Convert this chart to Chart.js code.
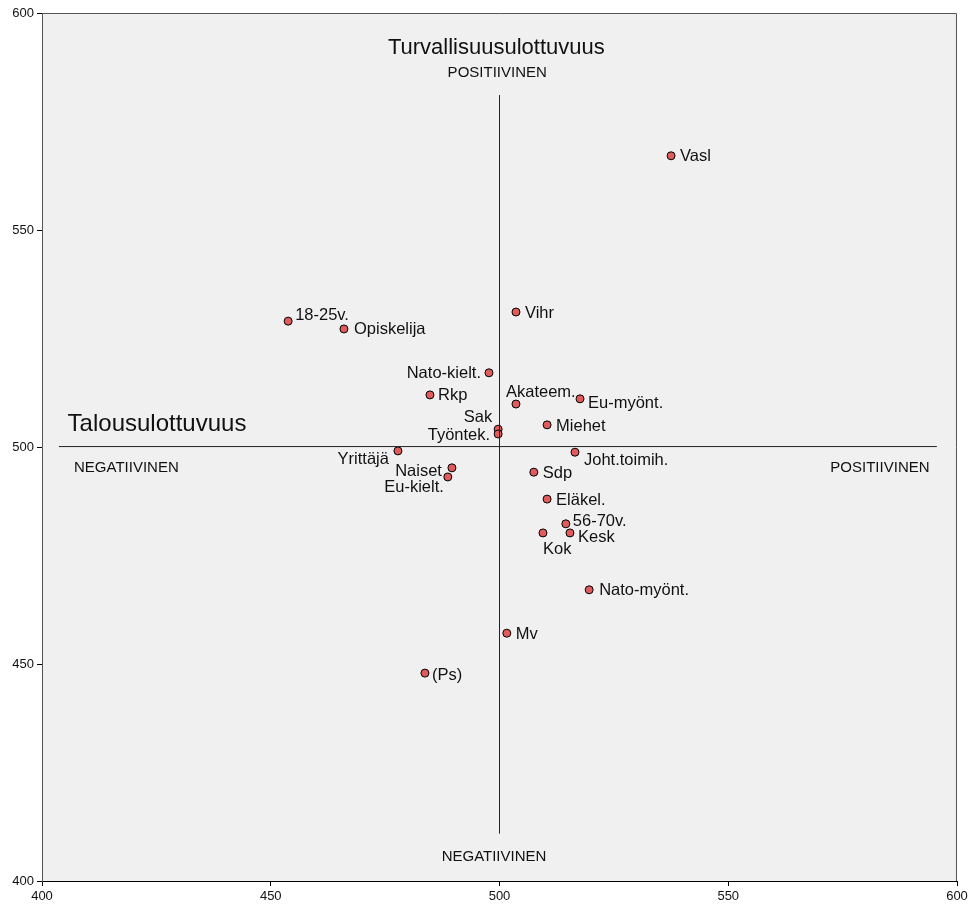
<!DOCTYPE html>
<html>
<head>
<meta charset="utf-8">
<script src="https://cdn.jsdelivr.net/npm/chart.js@4"></script>
<style>
  html, body { margin: 0; padding: 0; background: #fff; }
  #wrap { width: 977px; height: 909px; }
</style>
</head>
<body>
<div id="wrap"><canvas id="chart"></canvas></div>
<script>
// group names and their scores (x = talous, y = turvallisuus)
const groupNames = ['Vasl', 'Vihr', '18-25v.', 'Opiskelija', 'Nato-kielt.', 'Rkp', 'Akateem.',
  'Eu-myönt.', 'Sak', 'Työntek.', 'Miehet', 'Yrittäjä', 'Joht.toimih.', 'Naiset', 'Eu-kielt.',
  'Sdp', 'Eläkel.', '56-70v.', 'Kesk', 'Kok', 'Nato-myönt.', 'Mv', '(Ps)'];
const xValues = [537.5, 503.6, 453.8, 466.0, 497.7, 484.8, 503.6,
  517.6, 499.7, 499.7, 510.4, 477.8, 516.5, 489.6, 488.7,
  507.5, 510.4, 514.5, 515.4, 509.5, 519.6, 501.6, 483.7];
const yValues = [567.1, 531.1, 529.0, 527.2, 517.1, 512.0, 509.9,
  511.1, 504.1, 503.0, 505.1, 499.1, 498.8, 495.2, 493.1,
  494.2, 488.0, 482.3, 480.2, 480.2, 467.1, 457.1, 447.9];

// where each label sits relative to its point: [dx px, dy px, align]
const labelPlace = [[9, 1, 'left'], [9, 1, 'left'], [7, -6, 'left'], [10, 1, 'left'], [-8, 1, 'right'],
  [8, 1, 'left'], [-10, -12, 'left'], [8, 5, 'left'], [-6, -12, 'right'], [-8, 1, 'right'],
  [9, 2, 'left'], [-9, 9, 'right'], [9, 8, 'left'], [-10, 4, 'right'], [-4, 11, 'right'],
  [9, 1, 'left'], [9, 1, 'left'], [7, -2, 'left'], [8, 5, 'left'], [0, 17, 'left'],
  [10, 1, 'left'], [9, 1, 'left'], [7, 2, 'left']];

// axis range / ticks
const axisMin = 400;
const axisMax = 600;
const tickStep = 50;

// cross lines (axes of the map)
const vertLine = [{x: 500, y: 581}, {x: 500, y: 411}];
const horizLine = [{x: 403.7, y: 500.1}, {x: 595.6, y: 500.1}];

// texts written in the plot: [text, x, y, align, size]
const plotTexts = [
  ['Turvallisuusulottuvuus', 499.3, 592.0, 'center', 22],
  ['POSITIIVINEN', 499.5, 586.3, 'center', 15],
  ['NEGATIIVINEN', 498.8, 405.5, 'center', 15],
  ['Talousulottuvuus', 405.6, 505.3, 'left', 24],
  ['NEGATIIVINEN', 407.0, 495.1, 'left', 15],
  ['POSITIIVINEN', 594.0, 495.1, 'right', 15]
];

const points = xValues.map((v, i) => ({x: v, y: yValues[i]}));

const fontFam = '"Liberation Sans", Arial, sans-serif';

const plotBox = {
  id: 'plotBox',
  beforeDraw(chart) {
    const a = chart.chartArea;
    const ctx = chart.ctx;
    ctx.save();
    ctx.fillStyle = '#f0f0f0';
    ctx.fillRect(a.left, a.top, a.right - a.left, a.bottom - a.top);
    ctx.strokeStyle = '#555';
    ctx.lineWidth = 1;
    ctx.beginPath();
    ctx.moveTo(a.left, a.top + 0.5);
    ctx.lineTo(a.right - 0.5, a.top + 0.5);
    ctx.lineTo(a.right - 0.5, a.bottom);
    ctx.stroke();
    ctx.restore();
  }
};

const textLabels = {
  id: 'textLabels',
  afterDatasetsDraw(chart) {
    const ctx = chart.ctx;
    const xs = chart.scales.x, ys = chart.scales.y;
    ctx.save();
    ctx.fillStyle = '#111';
    ctx.textBaseline = 'middle';
    // point labels
    ctx.font = '16.5px ' + fontFam;
    const meta = chart.getDatasetMeta(2);
    meta.data.forEach((el, i) => {
      const p = labelPlace[i];
      ctx.textAlign = p[2];
      ctx.fillText(groupNames[i], el.x + p[0], el.y + p[1]);
    });
    // axis texts
    plotTexts.forEach(t => {
      ctx.font = t[4] + 'px ' + fontFam;
      ctx.textAlign = t[3];
      ctx.fillText(t[0], xs.getPixelForValue(t[1]), ys.getPixelForValue(t[2]));
    });
    ctx.restore();
  }
};

new Chart(document.getElementById('chart'), {
  type: 'scatter',
  data: {
    datasets: [
      {
        type: 'line',
        data: vertLine,
        borderColor: '#222',
        borderWidth: 1,
        pointRadius: 0,
        fill: false
      },
      {
        type: 'line',
        data: horizLine,
        borderColor: '#222',
        borderWidth: 1,
        pointRadius: 0,
        fill: false
      },
      {
        data: points,
        backgroundColor: '#e05c5c',
        borderColor: '#000',
        borderWidth: 1,
        pointRadius: 4,
        pointHoverRadius: 4
      }
    ]
  },
  options: {
    responsive: true,
    maintainAspectRatio: false,
    animation: false,
    events: [],
    layout: { padding: { top: 13, right: 20, left: 0, bottom: 0 } },
    plugins: {
      legend: { display: false },
      tooltip: { enabled: false }
    },
    scales: {
      x: {
        type: 'linear',
        min: axisMin,
        max: axisMax,
        afterFit(scale) { scale.height = 28; },
        border: { color: '#000', width: 1 },
        grid: { drawOnChartArea: false, tickLength: 5, color: '#000' },
        ticks: { stepSize: tickStep, color: '#111', padding: 3, font: { size: 13, family: fontFam } }
      },
      y: {
        type: 'linear',
        min: axisMin,
        max: axisMax,
        afterFit(scale) { scale.width = 42; },
        border: { color: '#555', width: 1 },
        grid: { drawOnChartArea: false, tickLength: 5, color: '#000' },
        ticks: { stepSize: tickStep, color: '#111', padding: 3, font: { size: 13, family: fontFam } }
      }
    }
  },
  plugins: [plotBox, textLabels]
});
</script>
</body>
</html>
